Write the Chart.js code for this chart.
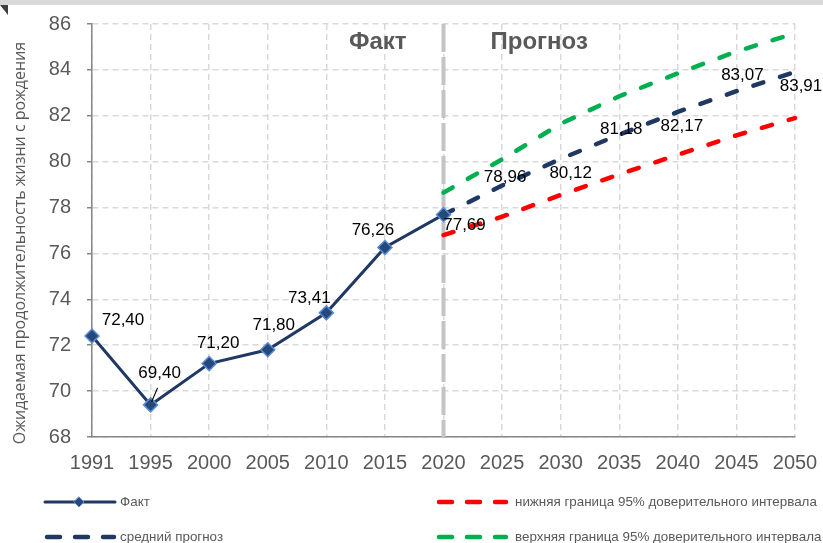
<!DOCTYPE html>
<html>
<head>
<meta charset="utf-8">
<script src="https://cdn.jsdelivr.net/npm/chart.js@4"></script>
<style>
  html, body { margin: 0; padding: 0; background: #fff; }
  #wrap { width: 823px; height: 543px; position: relative; }
</style>
</head>
<body>
<div id="wrap"><canvas id="lifeChart" width="823" height="543"></canvas></div>
<script>
// years on the x axis
const years = ['1991', '1995', '2000', '2005', '2010', '2015', '2020', '2025', '2030', '2035', '2040', '2045', '2050'];

// fact values (1991-2020)
const factValues = [72.40, 69.40, 71.20, 71.80, 73.41, 76.26, 77.69, null, null, null, null, null, null];
// forecast: mean, lower and upper bound of the 95% interval (2020-2050)
const meanForecast = [null, null, null, null, null, null, 77.69, 78.96, 80.12, 81.18, 82.17, 83.07, 83.91];
const lowerBound = [null, null, null, null, null, null, 76.8, 77.6, 78.55, 79.45, 80.3, 81.15, 81.9];
const upperBound = [null, null, null, null, null, null, 78.65, 80.1, 81.65, 82.85, 83.85, 84.8, 85.6];

const seriesNames = ['Факт', 'средний прогноз', 'нижняя граница 95% доверительного интервала', 'верхняя граница 95% доверительного интервала'];
const yTicks = [68, 70, 72, 74, 76, 78, 80, 82, 84, 86];

const navy = '#203864';
const grey = '#595959';

function fmt(v) {
    return v.toFixed(2).replace('.', ',');
}

// label offsets (px) from the point, fact series then mean forecast
const factLabelShift = [[31, -16], [9, -32], [9, -20], [6, -24], [-17, -15], [-12, -17], [21, 11]];
const meanLabelShift = {7: [3, -8], 8: [10, 14], 9: [2, -5], 10: [4, 14], 11: [6, -16], 12: [6, 14]};

const decorPlugin = {
    id: 'decor',
    beforeDraw(chart) {
        const ctx = chart.ctx;
        ctx.save();
        // grey strip at the top
        ctx.fillStyle = '#d9d9d9';
        ctx.fillRect(0, 0, chart.width, 5);
        ctx.fillStyle = '#3f3f3f';
        ctx.beginPath();
        ctx.moveTo(0, 5);
        ctx.lineTo(8, 5);
        ctx.lineTo(8, 15);
        ctx.closePath();
        ctx.fill();
        // y title
        ctx.translate(20, 243);
        ctx.rotate(-Math.PI / 2);
        ctx.fillStyle = grey;
        ctx.font = '16px "Open Sans"';
        ctx.textAlign = 'center';
        ctx.textBaseline = 'middle';
        ctx.fillText('Ожидаемая продолжительность жизни с рождения', 0, 0);
        ctx.restore();
    },
    beforeDatasetsDraw(chart) {
        const ctx = chart.ctx;
        const area = chart.chartArea;
        const sx = chart.scales.x.getPixelForValue(6);
        ctx.save();
        ctx.strokeStyle = '#c4c4c4';
        ctx.lineWidth = 4;
        ctx.setLineDash([28, 5]);
        ctx.beginPath();
        ctx.moveTo(sx, area.top);
        ctx.lineTo(sx, area.bottom);
        ctx.stroke();
        ctx.fillStyle = grey;
        ctx.font = 'bold 24px "Liberation Sans Narrow", "Liberation Sans", Arial';
        ctx.textBaseline = 'middle';
        ctx.textAlign = 'right';
        ctx.fillText('Факт', sx - 37, 42);
        ctx.textAlign = 'left';
        ctx.fillText('Прогноз', sx + 47, 42);
        ctx.restore();
    },
    afterDatasetsDraw(chart) {
        const ctx = chart.ctx;
        const xs = chart.scales.x, ys = chart.scales.y;
        ctx.save();
        ctx.fillStyle = '#000';
        ctx.font = '17px "Liberation Sans", Arial';
        ctx.textAlign = 'center';
        ctx.textBaseline = 'middle';
        factValues.forEach((v, i) => {
            if (v === null) return;
            const px = xs.getPixelForValue(i), py = ys.getPixelForValue(v);
            const s = factLabelShift[i];
            ctx.fillText(fmt(v), px + s[0], py + s[1]);
        });
        meanForecast.forEach((v, i) => {
            if (v === null || !meanLabelShift[i]) return;
            const px = xs.getPixelForValue(i), py = ys.getPixelForValue(v);
            const s = meanLabelShift[i];
            ctx.fillText(fmt(v), px + s[0], py + s[1]);
        });
        // leader line for 1995
        const lx = xs.getPixelForValue(1), ly = ys.getPixelForValue(factValues[1]);
        ctx.strokeStyle = '#000';
        ctx.lineWidth = 1.2;
        ctx.beginPath();
        ctx.moveTo(lx + 1, ly - 3);
        ctx.lineTo(lx + 7, ly - 17);
        ctx.stroke();
        ctx.restore();
    },
    afterDraw(chart) {
        // legend, two columns
        const ctx = chart.ctx;
        const items = [
            {ds: 0, x: 45, y: 502},
            {ds: 1, x: 45, y: 537},
            {ds: 2, x: 437, y: 502},
            {ds: 3, x: 437, y: 537}
        ];
        ctx.save();
        items.forEach(it => {
            const d = chart.data.datasets[it.ds];
            ctx.strokeStyle = d.borderColor;
            ctx.lineCap = 'round';
            if (it.ds === 0) {
                ctx.lineWidth = 3;
                ctx.setLineDash([]);
                ctx.beginPath();
                ctx.moveTo(it.x, it.y);
                ctx.lineTo(it.x + 70, it.y);
                ctx.stroke();
                ctx.fillStyle = d.pointBackgroundColor;
                ctx.strokeStyle = d.pointBorderColor;
                ctx.lineWidth = 1;
                ctx.beginPath();
                ctx.moveTo(it.x + 34, it.y - 5);
                ctx.lineTo(it.x + 39, it.y);
                ctx.lineTo(it.x + 34, it.y + 5);
                ctx.lineTo(it.x + 29, it.y);
                ctx.closePath();
                ctx.fill();
                ctx.stroke();
            } else {
                ctx.lineWidth = 4.5;
                ctx.setLineDash([13, 15]);
                ctx.beginPath();
                ctx.moveTo(it.x + 2, it.y);
                ctx.lineTo(it.x + 69, it.y);
                ctx.stroke();
            }
            ctx.setLineDash([]);
            ctx.fillStyle = grey;
            ctx.font = '13.4px "Liberation Sans", Arial';
            ctx.textAlign = 'left';
            ctx.textBaseline = 'middle';
            ctx.fillText(d.label, it.x + (it.ds === 0 || it.ds === 1 ? 75 : 78), it.y);
        });
        ctx.restore();
    }
};

const ctx = document.getElementById('lifeChart').getContext('2d');

new Chart(ctx, {
    type: 'line',
    data: {
        labels: years,
        datasets: [
            {
                label: seriesNames[0],
                data: factValues,
                borderColor: navy,
                borderWidth: 3,
                pointStyle: 'rectRot',
                pointRadius: 7,
                pointBackgroundColor: '#24497a',
                pointBorderColor: '#5b8bd0',
                pointBorderWidth: 1.5,
                tension: 0
            },
            {
                label: seriesNames[1],
                data: meanForecast,
                borderColor: navy,
                borderWidth: 4.5,
                borderDash: [10.5, 17.5],
                borderCapStyle: 'round',
                pointRadius: 0
            },
            {
                label: seriesNames[2],
                data: lowerBound,
                borderColor: '#ff0000',
                borderWidth: 4.5,
                borderDash: [10.5, 17.5],
                borderCapStyle: 'round',
                pointRadius: 0
            },
            {
                label: seriesNames[3],
                data: upperBound,
                borderColor: '#00b050',
                borderWidth: 4.5,
                borderDash: [10.5, 17.5],
                borderCapStyle: 'round',
                pointRadius: 0
            }
        ]
    },
    options: {
        responsive: false,
        animation: false,
        layout: {
            padding: {top: 24, right: 28, bottom: 66, left: 0}
        },
        plugins: {
            legend: {display: false},
            tooltip: {enabled: false}
        },
        scales: {
            x: {
                offset: false,
                grid: {color: '#d9d9d9', lineWidth: 1.5, drawTicks: false},
                border: {display: true, color: '#868686', width: 1.5, dash: [6, 4]},
                ticks: {color: grey, font: {size: 20, family: '"Liberation Sans", Arial'}, padding: 14, maxRotation: 0, autoSkip: false},
                afterFit(scale) {
                    scale.height = 40;
                    scale.paddingLeft = 0;
                    scale.paddingRight = 0;
                }
            },
            y: {
                min: yTicks[0],
                max: yTicks[yTicks.length - 1],
                afterBuildTicks(scale) { scale.ticks = yTicks.map(v => ({value: v})); },
                grid: {color: '#d9d9d9', lineWidth: 1.5, tickLength: 5, tickColor: '#868686'},
                border: {display: true, color: '#868686', width: 1.5, dash: [6, 4]},
                ticks: {color: grey, font: {size: 20, family: '"Liberation Sans", Arial'}, padding: 16},
                afterFit(scale) {
                    scale.width = 92;
                    scale.paddingTop = 0;
                    scale.paddingBottom = 0;
                }
            }
        }
    },
    plugins: [decorPlugin]
});
</script>
</body>
</html>
